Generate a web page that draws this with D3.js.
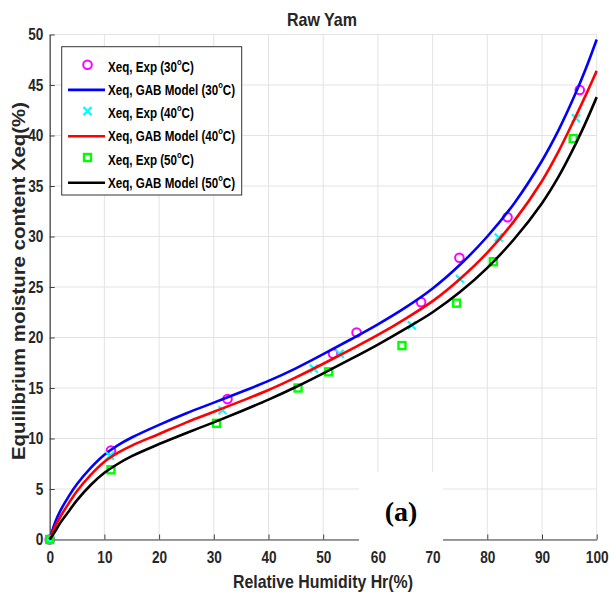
<!DOCTYPE html>
<html>
<head>
<meta charset="utf-8">
<script src="https://cdn.jsdelivr.net/npm/d3@7/dist/d3.min.js"></script>
<style>
body{margin:0;background:#fff;}
svg text{font-family:"Liberation Sans",Arial,sans-serif;font-weight:bold;fill:#262626;}
</style>
</head>
<body>
<script>
var hrExp30=[0,11.2,32.5,51.8,56.1,67.9,74.9,83.7,96.9];
var xeqExp30=[0,8.8,13.9,18.4,20.5,23.5,27.9,31.9,44.5];
var hrExp40=[0,11.0,31.6,48.3,53.0,66.2,75.0,82.1,96.2];
var xeqExp40=[0,8.3,12.8,16.9,18.4,21.2,25.8,29.9,41.7];
var hrExp50=[0,11.2,30.5,45.4,51.0,64.4,74.4,81.1,95.7];
var xeqExp50=[0,6.9,11.5,15.0,16.6,19.2,23.4,27.5,39.7];

var hrModel=[0,1,2,3.5,5,7.5,10,12.5,15,20,25,30,35,40,45,50,55,60,65,70,75,80,85,90,93,96,98,100];
var gab30=[0,1.7,2.9,4.3,5.5,7.1,8.4,9.35,10.1,11.35,12.5,13.55,14.6,15.7,16.95,18.35,19.8,21.3,22.95,24.85,27.2,30.0,33.35,37.5,40.5,44.0,46.6,49.5];
var gab40=[0,1.3,2.3,3.6,4.8,6.4,7.7,8.6,9.3,10.45,11.6,12.65,13.7,14.8,16.05,17.4,18.8,20.25,21.85,23.6,25.8,28.4,31.6,35.5,38.4,41.7,44.0,46.4];
var gab50=[0,0.8,1.7,2.8,3.9,5.4,6.6,7.5,8.25,9.45,10.55,11.6,12.7,13.85,15.1,16.45,17.85,19.3,20.85,22.5,24.5,26.9,29.8,33.3,35.9,39.0,41.3,43.8];

var xTicks=[0,10,20,30,40,50,60,70,80,90,100];
var yTicks=[0,5,10,15,20,25,30,35,40,45,50];

var legendLabels=[
  {t:"Xeq, Exp (30",k:"circle",c:"#ff00ff"},
  {t:"Xeq, GAB Model (30",k:"line",c:"#0000ff"},
  {t:"Xeq, Exp (40",k:"cross",c:"#00ffff"},
  {t:"Xeq, GAB Model (40",k:"line",c:"#ff0000"},
  {t:"Xeq, Exp (50",k:"square",c:"#00ff00"},
  {t:"Xeq, GAB Model (50",k:"line",c:"#000000"}
];

var width=609,height=594;
var svg=d3.select("body").append("svg")
    .attr("width",width)
    .attr("height",height);

var x=d3.scaleLinear().domain([0,100]).range([49.7,596.7]);
var y=d3.scaleLinear().domain([0,50]).range([539.5,34.5]);

// grid
svg.append("g").selectAll("line").data(xTicks).enter().append("line")
    .attr("x1",function(d){return x(d)}).attr("x2",function(d){return x(d)})
    .attr("y1",y(0)).attr("y2",y(50))
    .attr("stroke","#e3e3e3").attr("stroke-width",1);
svg.append("g").selectAll("line").data(yTicks).enter().append("line")
    .attr("x1",x(0)).attr("x2",x(100))
    .attr("y1",function(d){return y(d)}).attr("y2",function(d){return y(d)})
    .attr("stroke","#e3e3e3").attr("stroke-width",1);

// axes
var xAxis=svg.append("g").attr("transform","translate(0,"+y(0)+")")
    .call(d3.axisBottom(x).tickValues(xTicks).tickSizeInner(-5).tickSizeOuter(0).tickPadding(11));
var yAxis=svg.append("g").attr("transform","translate("+x(0)+",0)")
    .call(d3.axisLeft(y).tickValues(yTicks).tickSizeInner(-5).tickSizeOuter(0).tickPadding(8));
[xAxis,yAxis].forEach(function(a){
  a.attr("font-family",null).attr("font-size",null);
  a.select(".domain").attr("stroke","#404040").attr("stroke-width",1.2);
  a.selectAll(".tick line").attr("stroke","#404040");
  a.selectAll(".tick text").attr("font-size",17).attr("fill","#262626")
    .attr("transform","scale(0.8,1)");
});

function toPts(xs,ys){return xs.map(function(v,i){return [v,ys[i]]})}

var line=d3.line().x(function(d){return x(d[0])}).y(function(d){return y(d[1])}).curve(d3.curveCatmullRom.alpha(0.5));

function drawExp(pts,kind,col){
  var g=svg.append("g");
  pts.forEach(function(p){
    var cx=x(p[0]),cy=y(p[1]);
    if(kind=="circle"){
      g.append("circle").attr("cx",cx).attr("cy",cy).attr("r",4.3)
       .attr("fill","none").attr("stroke",col).attr("stroke-width",2);
    }else if(kind=="cross"){
      g.append("path").attr("d","M"+(cx-4)+","+(cy-4)+"L"+(cx+4)+","+(cy+4)+"M"+(cx-4)+","+(cy+4)+"L"+(cx+4)+","+(cy-4))
       .attr("stroke",col).attr("stroke-width",2.2);
    }else{
      g.append("rect").attr("x",cx-3.5).attr("y",cy-3.5).attr("width",7).attr("height",7)
       .attr("fill","none").attr("stroke",col).attr("stroke-width",2.4);
    }
  });
}
function drawModel(pts,col){
  svg.append("path").datum(pts).attr("d",line)
     .attr("fill","none").attr("stroke",col).attr("stroke-width",2.6);
}

drawExp(toPts(hrExp30,xeqExp30),"circle","#ff00ff");
drawModel(toPts(hrModel,gab30),"#0000ff");
drawExp(toPts(hrExp40,xeqExp40),"cross","#00ffff");
drawModel(toPts(hrModel,gab40),"#ff0000");
drawExp(toPts(hrExp50,xeqExp50),"square","#00ff00");
drawModel(toPts(hrModel,gab50),"#000000");

// titles
svg.append("text").attr("x",322).attr("y",26).attr("text-anchor","middle")
   .attr("font-size",19).attr("textLength",70).attr("lengthAdjust","spacingAndGlyphs").text("Raw Yam");
svg.append("text").attr("x",323).attr("y",588).attr("text-anchor","middle")
   .attr("font-size",19).attr("textLength",180).attr("lengthAdjust","spacingAndGlyphs").text("Relative Humidity Hr(%)");
svg.append("text").attr("transform","translate(25,281) rotate(-90)").attr("text-anchor","middle")
   .attr("font-size",19).attr("textLength",358).attr("lengthAdjust","spacingAndGlyphs").text("Equilibrium moisture content Xeq(%)");

// legend
var lg=svg.append("g");
lg.append("rect").attr("x",61.7).attr("y",46.7).attr("width",180).attr("height",148.3)
  .attr("fill","#fff").attr("stroke","#333").attr("stroke-width",1);
legendLabels.forEach(function(d,i){
  var cy=66.7+i*23.2;
  if(d.k=="line"){
    lg.append("line").attr("x1",68).attr("x2",105).attr("y1",cy).attr("y2",cy)
      .attr("stroke",d.c).attr("stroke-width",2.6);
  }else if(d.k=="circle"){
    lg.append("circle").attr("cx",87.5).attr("cy",cy-2).attr("r",4.3)
      .attr("fill","none").attr("stroke",d.c).attr("stroke-width",2);
  }else if(d.k=="cross"){
    lg.append("path").attr("d","M83.5,"+(cy-6)+"L91.5,"+(cy+2)+"M83.5,"+(cy+2)+"L91.5,"+(cy-6))
      .attr("stroke",d.c).attr("stroke-width",2.2);
  }else{
    lg.append("rect").attr("x",84).attr("y",cy-5.5).attr("width",7).attr("height",7)
      .attr("fill","none").attr("stroke",d.c).attr("stroke-width",2.4);
  }
  var t=lg.append("text").attr("transform","translate(108,"+(cy+5)+") scale(0.8,1)")
    .attr("font-size",14.5).style("fill","#000");
  t.append("tspan").text(d.t);
  t.append("tspan").attr("font-size",9.5).attr("dy",-7).text("o");
  t.append("tspan").attr("dy",7).text("C)");
});

// (a) label on white patch
svg.append("rect").attr("x",359).attr("y",472).attr("width",84).attr("height",74).attr("fill","#fff");
svg.append("text").attr("x",401).attr("y",521).attr("text-anchor","middle")
   .attr("font-size",28).style("font-family","'Liberation Serif','Times New Roman',serif")
   .style("fill","#000").text("(a)");
</script>
</body>
</html>
